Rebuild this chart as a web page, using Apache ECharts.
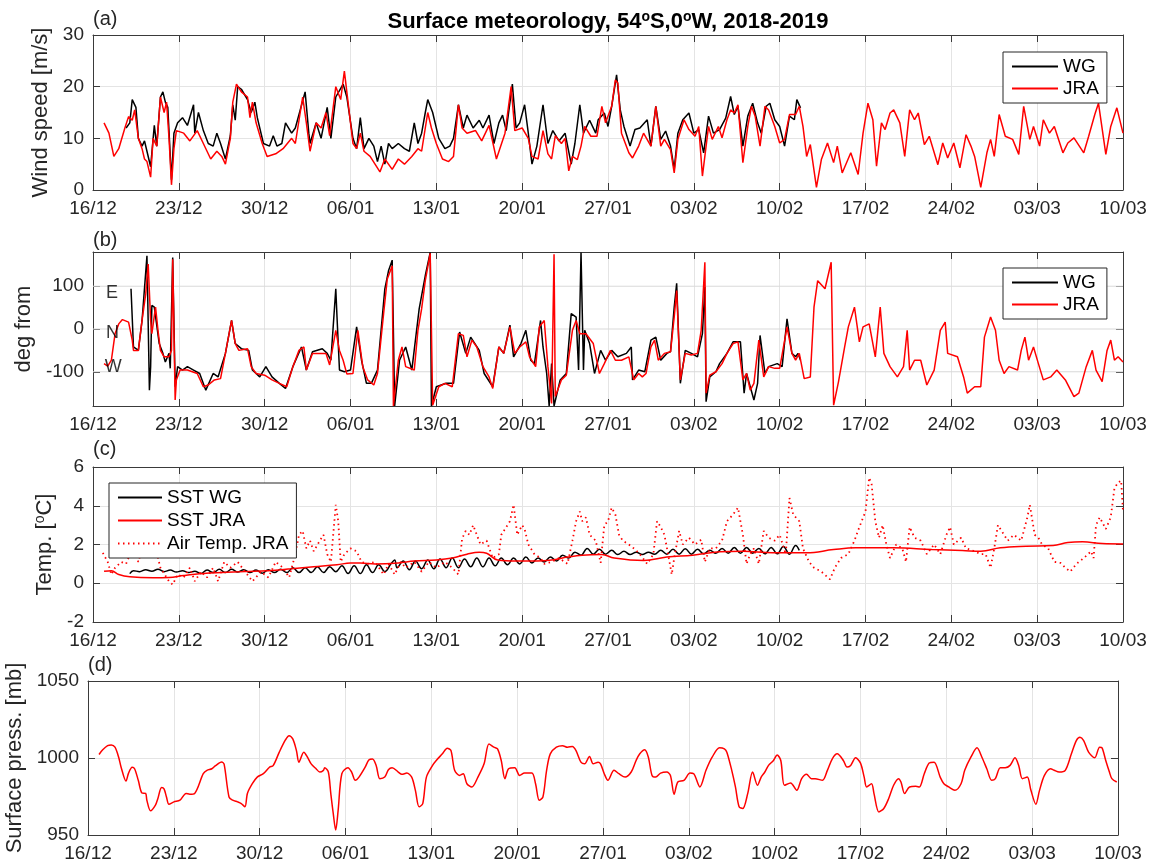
<!DOCTYPE html>
<html><head><meta charset="utf-8">
<script src="https://cdn.jsdelivr.net/npm/echarts@6/dist/echarts.min.js"></script>
<style>html,body{margin:0;padding:0;background:#fff}#c{width:1154px;height:868px}</style>
</head><body><div id="c"></div>
<script>
// ---- tick labels (x axis: days since 16/12/2018, weekly ticks) ----
const tickLabels = ['16/12','23/12','30/12','06/01','13/01','20/01','27/01','03/02','10/02','17/02','24/02','03/03','10/03'];
const dirTicks = [-100, 0, 100];

// ---- (a) wind speed [m/s] : [day, value] ----
const windWG = [[2.7,12],[3.0,13],[3.2,17.5],[3.5,16],[3.7,10],[4.0,8.5],[4.2,9.5],[4.4,7.5],[4.7,4.5],[5.0,12.5],[5.2,8.5],[5.5,18],[5.7,19],[5.9,17],[6.1,16],[6.4,2],[6.6,11],[6.9,13],[7.3,14],[7.7,12.5],[8.2,16.5],[8.3,11],[8.6,15],[9.0,11.5],[9.4,9],[9.8,8.5],[10.1,11],[10.4,9],[10.8,6],[11.2,10.5],[11.4,16.5],[11.6,13.5],[11.8,20],[12.1,19.5],[12.6,17.5],[12.9,15],[13.2,17],[13.4,14],[13.9,9],[14.4,8.5],[14.7,10.5],[15.0,8.5],[15.4,9],[15.7,13],[16.2,11],[16.5,12],[17.3,19],[17.6,11],[17.7,9],[18.2,13],[18.6,10],[19.1,16],[19.4,10],[19.8,18],[20.4,20.5],[20.7,18],[21.2,10],[21.5,8],[21.8,14],[22.1,8],[22.5,10],[22.9,8.5],[23.2,5.5],[23.5,8.5],[23.8,5],[24.1,9],[24.4,8],[24.9,9],[25.4,8],[25.8,7.5],[26.2,13],[26.5,9],[26.8,11],[27.1,15],[27.3,17.5],[27.7,15],[28.2,10],[28.7,8],[29.1,8.5],[29.4,10],[29.8,16.5],[30.2,12],[30.5,14.5],[31.0,12],[31.5,13.5],[31.8,12],[32.3,14.5],[32.7,9],[33.1,13],[33.4,14.5],[33.7,11.5],[34.2,20.5],[34.5,12],[34.8,13],[35.2,16.5],[35.5,11],[35.8,5],[36.2,8.5],[36.7,16.5],[37.1,9],[37.5,11.5],[38.0,9.5],[38.5,11],[39.0,5],[39.3,9],[39.7,16.5],[40.0,11],[40.5,13.5],[41.0,11],[41.2,13.6],[41.7,14.9],[42.0,12.3],[42.3,16.2],[42.7,22.3],[43.0,15.5],[43.3,12.3],[43.8,8.5],[44.2,11.7],[44.6,12],[45.2,13.6],[45.5,8.5],[45.9,16.2],[46.3,9.8],[46.7,11.4],[47.1,8.5],[47.4,4],[47.7,11],[48.1,13.6],[48.6,14.9],[49.0,11],[49.4,11.7],[49.8,7.2],[50.2,14.3],[50.6,11],[51.1,11.7],[51.6,13.9],[52.0,18.1],[52.3,14.6],[52.6,16.2],[53.0,8.5],[53.4,14.3],[53.8,16.8],[54.2,13],[54.5,11],[54.9,16.2],[55.2,16.8],[55.6,13.6],[56.0,12.3],[56.4,8.5],[56.8,14.3],[57.2,13.6],[57.4,17.5],[57.7,15.9]];
const windJRA = [[0.9,13],[1.3,11],[1.7,6.5],[2.1,8],[2.6,12],[2.9,14.2],[3.2,13.5],[3.4,15.5],[3.7,10],[4.0,8],[4.2,6],[4.4,5.5],[4.7,2.5],[4.9,10],[5.2,8.5],[5.5,18],[5.8,15],[6.0,17],[6.2,10],[6.4,1],[6.6,8],[6.8,11.5],[7.4,11],[7.9,9.5],[8.5,11.5],[9.0,9],[9.6,6],[10.1,7.5],[10.5,6.5],[10.8,5],[11.2,10],[11.4,17],[11.7,20.5],[12.1,19],[12.6,18],[12.8,14],[13.0,17],[13.3,13],[13.8,9],[14.2,6.5],[14.9,7],[15.5,8],[16.2,10],[16.5,9],[17.1,18],[17.4,13],[17.7,7.5],[18.2,13],[18.6,12],[19.0,15],[19.3,10.5],[19.8,20],[20.2,17.5],[20.5,23],[20.8,17],[21.2,9],[21.5,8],[21.8,11],[22.1,7.5],[22.6,6.5],[23.0,5],[23.4,3.5],[23.8,6],[24.4,4],[24.9,6],[25.4,5],[26.0,6.5],[26.5,8],[26.8,7.5],[27.3,15],[27.6,12],[28.0,9],[28.5,6],[29.0,5.5],[29.4,6.5],[29.8,16.5],[30.1,12],[30.5,11],[31.2,11.5],[31.7,9.5],[32.3,12.5],[32.9,6],[33.6,11],[34.1,20],[34.4,11.5],[35.0,12],[35.5,10],[35.8,6.5],[36.3,6],[36.7,11.5],[37.1,7],[37.4,6],[37.7,10.5],[38.2,9],[38.5,10],[38.8,3.7],[39.1,6.5],[39.5,5.9],[39.8,8.5],[40.1,12.3],[40.6,10.4],[41.1,10.4],[41.5,16.2],[41.8,13],[42.3,16.2],[42.6,21.3],[42.8,20.7],[43.1,11],[43.7,7.2],[44.0,6.2],[44.5,8.5],[44.9,11],[45.5,8.5],[45.9,16.2],[46.3,8.5],[46.6,9.8],[47.1,7.8],[47.4,3.3],[47.7,9.8],[48.2,13.6],[48.6,11.7],[49.1,10.4],[49.4,12.3],[49.7,2.7],[50.2,12.3],[50.5,9.8],[51.0,12.3],[51.3,10.1],[51.7,13.6],[52.0,15.5],[52.3,14.9],[52.6,16.5],[53.0,5.3],[53.4,12.3],[53.7,16.2],[54.0,14.3],[54.4,8.5],[54.8,16.2],[55.1,15.5],[55.6,12.3],[56.0,9.1],[56.4,9.8],[56.8,14.6],[57.3,14.6],[57.6,16.2],[57.9,12.3],[58.2,6.5],[58.5,8.8],[59.0,0.5],[59.4,5.9],[59.9,9.1],[60.4,5.3],[60.7,8.5],[61.1,3.3],[61.8,7.2],[62.4,3],[62.8,11],[63.2,16.8],[63.6,13.6],[63.9,4.6],[64.3,13],[64.6,11.7],[65.0,14.9],[65.3,15.5],[65.8,13],[66.2,6.5],[66.6,15.5],[67.0,13.6],[67.3,14.9],[67.8,8.8],[68.2,10.4],[68.9,4.9],[69.3,9.1],[69.7,6.2],[70.2,9.1],[70.7,4.3],[71.2,10.7],[71.6,8.5],[71.9,6.5],[72.4,0.5],[72.9,7.2],[73.2,9.8],[73.5,6.5],[73.9,14.6],[74.4,10.4],[75.0,9.8],[75.5,6.9],[75.9,16.2],[76.4,9.8],[76.7,12.3],[77.2,8.5],[77.5,13.6],[78.0,11],[78.4,12.3],[79.1,7.2],[79.5,9.1],[80.0,10.1],[80.8,7.2],[81.2,10.4],[81.7,14.6],[82.0,16.8],[82.6,6.9],[83.0,12.3],[83.5,15.9],[84.0,11]];

// ---- (b) wind direction [deg from] ----
const dirWG = [[3.1,94],[3.3,-42],[3.7,-50],[4.0,20],[4.4,171],[4.6,-143],[4.7,-88],[4.8,55],[5.0,51],[5.4,-34],[5.7,-57],[5.9,-77],[6.2,-57],[6.3,-92],[6.5,167],[6.7,-135],[6.9,-88],[7.3,-96],[7.7,-88],[8.2,-96],[8.7,-104],[9.2,-143],[9.8,-104],[10.2,-112],[10.8,-57],[11.3,20],[11.6,-34],[12.1,-46],[12.7,-50],[13.0,-96],[13.6,-112],[14.1,-88],[14.6,-112],[15.2,-127],[15.7,-139],[16.3,-88],[17.0,-42],[17.4,-96],[17.9,-53],[18.7,-46],[19.1,-57],[19.4,-73],[19.8,94],[19.9,28],[20.1,-96],[20.5,-100],[21.0,-96],[21.5,5],[21.9,-73],[22.3,-127],[22.7,-127],[23.2,-96],[23.8,94],[24.1,136],[24.4,161],[24.6,-180],[25.0,-73],[25.5,-42],[26.0,-96],[26.6,47],[27.1,125],[27.5,179],[27.6,-180],[28.0,-135],[28.8,-127],[29.4,-127],[29.9,-7],[30.4,-57],[30.8,-19],[31.5,-50],[31.9,-104],[32.6,-135],[33.1,-42],[33.5,-57],[34.0,9],[34.3,-65],[34.9,-34],[35.3,-3],[35.7,-73],[36.0,-81],[36.5,20],[36.7,-42],[37.0,-104],[37.2,-180],[37.4,-81],[37.6,-180],[38.1,-119],[38.6,-104],[39.0,36],[39.4,28],[39.6,-96],[39.8,179],[40.0,-96],[40.1,-3],[40.5,-34],[40.9,-104],[41.4,-50],[41.8,-73],[42.3,-50],[42.8,-65],[43.5,-57],[43.9,-42],[44.0,-119],[44.5,-96],[45.0,-100],[45.5,-26],[45.9,-19],[46.3,-73],[46.8,-57],[47.1,-53],[47.4,51],[47.6,107],[47.9,-127],[48.3,-50],[48.8,-57],[49.3,-65],[49.7,-11],[49.9,98],[50.0,-170],[50.3,-112],[50.8,-100],[51.1,-81],[51.7,-57],[52.2,-30],[52.8,-30],[53.1,-150],[53.3,-104],[53.9,-166],[54.2,-127],[54.4,-15],[54.8,-104],[55.1,-88],[55.8,-81],[56.2,-88],[56.6,24],[57.0,-57],[57.3,-65],[57.5,-57],[57.7,-73]];
const dirJRA = [[0.9,-81],[1.2,-87],[1.5,-73],[1.8,-11],[2.1,12],[2.4,22],[2.9,16],[3.0,16],[3.2,-26],[3.3,-50],[3.7,-50],[4.0,20],[4.3,82],[4.5,152],[4.7,20],[4.8,-11],[5.1,51],[5.3,-3],[5.5,-50],[5.8,-65],[6.2,-65],[6.4,-50],[6.5,163],[6.7,-166],[6.8,-119],[7.1,-96],[7.7,-96],[8.5,-104],[9.0,-135],[9.4,-131],[9.9,-119],[10.4,-116],[10.8,-57],[11.3,20],[11.6,-34],[11.9,-50],[12.6,-46],[12.9,-88],[13.3,-104],[14.0,-108],[14.6,-119],[15.2,-127],[15.8,-135],[16.3,-88],[16.8,-50],[17.2,-42],[17.4,-96],[17.9,-57],[18.5,-57],[19.0,-57],[19.3,-84],[19.8,-3],[20.1,-50],[20.4,-73],[20.7,-105],[21.2,-104],[21.6,-3],[22.0,-88],[22.4,-119],[22.9,-131],[23.2,-104],[23.7,36],[24.0,117],[24.4,148],[24.5,-180],[24.9,-73],[25.2,-42],[25.5,-88],[26.2,-96],[26.5,-3],[26.8,47],[27.1,113],[27.5,177],[27.7,-178],[28.2,-135],[28.7,-127],[29.3,-135],[29.8,-11],[30.2,-15],[30.5,-65],[30.9,-26],[31.3,-42],[31.8,-88],[32.3,-112],[32.6,-139],[33.1,-42],[33.5,-57],[34.0,5],[34.4,-57],[34.8,-42],[35.3,-30],[35.6,-65],[36.1,-88],[36.4,5],[36.8,20],[37.1,-88],[37.4,-174],[37.6,175],[37.7,-158],[38.2,-119],[38.6,-108],[39.1,-3],[39.4,20],[39.7,-11],[40.2,-11],[40.8,-34],[41.3,-104],[41.7,-81],[42.2,-50],[42.6,-73],[43.1,-73],[43.7,-65],[44.1,-119],[44.5,-104],[44.8,-112],[45.1,-104],[45.5,-42],[45.8,-26],[46.1,-73],[46.6,-57],[47.1,-53],[47.4,28],[47.6,90],[47.9,-119],[48.3,-57],[48.8,-61],[49.3,-57],[49.6,-3],[49.9,156],[50.0,-150],[50.3,-108],[50.8,-100],[51.3,-81],[51.7,-57],[52.2,-34],[52.6,-30],[53.0,-119],[53.3,-104],[53.6,-143],[53.9,-127],[54.3,-26],[54.7,-112],[55.1,-88],[55.6,-92],[56.0,-92],[56.6,5],[57.0,-57],[57.3,-73],[57.6,-57],[58.0,-116],[58.5,-112],[58.8,51],[59.1,113],[59.7,94],[60.2,156],[60.4,-178],[60.8,-123],[61.3,-42],[61.6,5],[62.1,51],[62.5,-30],[62.8,5],[63.3,12],[63.8,-65],[64.2,51],[64.5,-57],[65.0,-88],[65.6,-112],[66.1,-88],[66.4,-3],[66.6,-96],[67.0,-73],[67.5,-73],[68.0,-131],[68.6,-96],[69.1,-3],[69.5,16],[69.7,-57],[70.5,-65],[71.0,-112],[71.3,-150],[71.9,-135],[72.4,-135],[72.7,-19],[73.2,28],[73.6,-3],[73.9,-73],[74.3,-104],[74.7,-88],[75.4,-96],[75.7,-50],[76.0,-19],[76.3,-73],[76.7,-42],[77.1,-81],[77.5,-119],[78.1,-112],[78.6,-96],[79.3,-119],[80.0,-158],[80.4,-150],[81.0,-88],[81.5,-50],[81.8,-96],[82.3,-123],[82.7,-50],[83.0,-26],[83.3,-73],[83.6,-65],[84.0,-77]];
const compassLabels = [{name:'E', value:[1.55,84]},{name:'N', value:[1.6,-9]},{name:'W', value:[1.65,-89]}];

// ---- (c) temperatures [degC] ----
const sstWG = [[3.0,0.5],[3.3,0.65],[3.8,0.6],[4.3,0.7],[4.8,0.62],[5.3,0.72],[5.8,0.6],[6.3,0.68],[6.8,0.58],[7.3,0.65],[7.8,0.55],[8.3,0.62],[8.8,0.5],[9.3,0.68],[9.8,0.55],[10.3,0.72],[10.8,0.55],[11.3,0.72],[11.8,0.58],[12.3,0.7],[12.8,0.55],[13.3,0.68],[13.8,0.52],[14.3,0.7],[14.8,0.55],[15.3,0.72],[15.8,0.55],[16.3,0.8],[16.8,0.55],[17.3,0.8],[17.8,0.55],[18.3,0.85],[18.8,0.55],[19.3,0.85],[19.8,0.6],[20.3,0.9],[20.8,0.5],[21.3,0.9],[21.8,0.5],[22.3,0.95],[22.8,0.55],[23.3,0.95],[23.8,0.6],[24.3,1.0],[24.6,1.2],[24.8,0.8],[25.3,1.15],[25.8,0.7],[26.3,1.15],[26.8,0.75],[27.3,1.2],[27.8,0.75],[28.3,1.25],[28.8,0.8],[29.3,1.3],[29.8,0.8],[30.3,1.25],[30.8,0.85],[31.3,1.3],[31.8,0.85],[32.3,1.3],[32.8,0.9],[33.3,1.3],[33.8,0.95],[34.3,1.3],[34.8,1.0],[35.3,1.35],[35.8,1.05],[36.3,1.3],[36.8,1.1],[37.3,1.35],[37.8,1.15],[38.3,1.45],[38.8,1.3],[39.3,1.6],[39.8,1.45],[40.3,1.8],[40.8,1.5],[41.3,1.75],[41.8,1.5],[42.3,1.7],[42.8,1.48],[43.3,1.65],[43.8,1.48],[44.3,1.6],[44.8,1.48],[45.3,1.6],[45.8,1.5],[46.3,1.7],[46.8,1.5],[47.3,1.75],[47.8,1.5],[48.3,1.78],[48.8,1.5],[49.3,1.75],[49.8,1.52],[50.3,1.7],[50.8,1.55],[51.3,1.8],[51.8,1.55],[52.3,1.85],[52.8,1.55],[53.3,1.85],[53.8,1.55],[54.3,1.8],[54.8,1.52],[55.3,1.85],[55.8,1.52],[56.3,1.9],[56.8,1.5],[57.3,1.95],[57.6,1.7]];
const sstJRA = [[0.9,0.62],[1.5,0.65],[2.1,0.45],[3.0,0.33],[4.9,0.28],[6.2,0.3],[7.4,0.4],[9.0,0.5],[10.5,0.55],[12.4,0.6],[14.3,0.65],[16.2,0.75],[18.0,0.85],[19.9,0.95],[21.0,1.05],[21.8,1.05],[23.0,1.0],[24.9,1.05],[26.2,1.15],[28.0,1.2],[29.3,1.3],[30.5,1.5],[31.5,1.6],[32.1,1.55],[33.0,1.2],[34.6,1.15],[36.2,1.15],[37.4,1.2],[38.7,1.35],[39.9,1.45],[41.5,1.48],[42.5,1.3],[44.9,1.17],[46.8,1.35],[48.9,1.45],[51.1,1.62],[53.0,1.65],[55.4,1.57],[58.2,1.57],[60.4,1.74],[62.2,1.83],[65.3,1.83],[68.4,1.74],[70.9,1.69],[72.4,1.65],[74.0,1.83],[76.1,1.91],[78.3,1.95],[79.5,2.1],[80.7,2.14],[82.3,2.05],[84.0,2.03]];
const airJRA = [[0.8,1.57],[1.2,1.1],[1.5,0.45],[1.8,0.8],[2.3,1.1],[2.7,1.0],[3.2,1.8],[3.7,1.1],[4.1,2.0],[4.6,1.3],[5.1,1.8],[5.5,0.8],[6.2,0.1],[6.5,-0.07],[6.9,0.45],[7.4,0.3],[7.9,0.8],[8.3,0.1],[8.8,0.6],[9.3,0.3],[9.8,0.8],[10.2,0.1],[10.7,1.1],[11.2,0.8],[11.8,1.1],[12.4,0.6],[13.0,0.1],[13.7,0.6],[14.3,0.3],[14.9,1.1],[15.5,0.8],[16.0,0.3],[16.5,1.5],[16.8,2.5],[17.1,2.7],[17.4,1.8],[17.7,2.2],[18.0,1.65],[18.5,2.2],[18.8,2.5],[19.1,1.5],[19.4,1.1],[19.8,4.05],[20.0,3.2],[20.2,1.1],[20.5,1.5],[21.0,1.8],[21.5,1.65],[21.9,1.1],[22.4,1.0],[23.0,1.1],[23.7,0.45],[24.1,1.0],[24.6,0.45],[25.1,1.1],[25.5,0.8],[26.2,1.1],[26.8,0.6],[27.4,1.1],[28.0,0.8],[28.7,1.1],[29.3,0.8],[29.8,0.45],[30.1,2.3],[30.4,2.7],[30.7,2.5],[31.0,3.0],[31.3,2.5],[31.6,2.0],[32.1,2.2],[32.6,1.3],[33.1,1.5],[33.3,2.5],[33.7,2.9],[34.0,3.2],[34.3,4.05],[34.6,2.5],[35.0,3.0],[35.2,2.8],[35.5,2.0],[36.0,1.5],[36.5,1.3],[36.8,1.0],[37.4,1.1],[38.0,1.3],[38.7,1.0],[39.1,2.2],[39.4,3.2],[39.7,3.7],[39.9,3.2],[40.2,3.4],[40.5,2.5],[41.0,2.2],[41.4,1.05],[41.7,3.0],[42.0,3.2],[42.3,3.9],[42.6,3.55],[42.9,2.5],[43.2,2.2],[43.7,2.0],[44.2,1.75],[44.6,1.5],[45.2,1.0],[45.7,1.5],[46.0,3.2],[46.3,2.9],[46.6,2.5],[46.9,1.5],[47.2,0.45],[47.4,1.3],[47.8,2.7],[48.1,2.0],[48.6,2.35],[49.1,2.0],[49.6,2.25],[49.9,1.1],[50.3,1.8],[50.8,1.8],[51.3,2.2],[51.7,3.2],[52.2,3.55],[52.6,3.9],[53.0,2.5],[53.3,1.0],[53.6,1.5],[53.9,1.8],[54.3,1.0],[54.7,2.7],[55.1,2.35],[55.6,2.2],[56.0,2.5],[56.5,1.5],[56.8,4.4],[57.1,3.55],[57.6,3.2],[57.9,1.8],[58.4,1.1],[58.8,0.8],[59.4,0.6],[60.1,0.2],[60.5,0.8],[61.0,1.3],[61.6,1.5],[62.1,2.2],[62.5,2.9],[63.0,3.7],[63.3,5.45],[63.5,5.1],[63.8,3.2],[64.1,2.35],[64.4,3.0],[64.7,2.0],[65.0,1.3],[65.5,2.0],[66.0,1.8],[66.3,1.1],[66.6,2.9],[67.0,2.35],[67.5,2.2],[68.0,1.5],[68.6,2.0],[69.1,1.5],[69.6,2.5],[69.9,2.9],[70.2,2.0],[70.8,2.35],[71.2,1.8],[71.9,1.65],[72.4,1.5],[72.8,1.5],[73.2,0.8],[73.5,1.8],[73.8,3.0],[74.1,2.7],[74.6,2.2],[75.1,2.5],[75.7,2.2],[76.2,3.4],[76.4,4.05],[76.8,2.5],[77.1,2.35],[77.4,2.0],[77.9,1.8],[78.4,1.1],[78.9,1.05],[79.3,0.8],[79.7,0.6],[80.2,1.0],[80.8,1.3],[81.4,1.65],[81.6,1.3],[81.8,3.0],[82.1,3.4],[82.6,2.8],[83.0,3.4],[83.3,4.9],[83.6,5.2],[83.85,5.3],[84.0,3.7]];

// ---- (d) surface pressure [mb] ----
const pressJRA = [[0.9,1002.3],[1.2,1005.3],[1.6,1008],[1.9,1008.5],[2.2,1007],[2.5,1000.5],[2.7,994],[3.1,985],[3.3,990],[3.6,994],[3.8,993],[4.1,985.5],[4.4,977.3],[4.7,977],[4.8,972.6],[5.1,965.7],[5.5,969.4],[5.7,973.7],[6.0,980.8],[6.2,980],[6.4,974.7],[6.6,970],[7.0,971.5],[7.5,972.6],[8.0,977],[8.3,976.5],[8.7,977],[9.4,989.8],[9.7,992],[10.1,993],[10.4,995],[10.9,997.4],[11.1,996],[11.5,974.7],[11.8,972.6],[12.2,971.5],[12.5,970.4],[12.8,968.3],[13.0,977],[13.4,983.3],[13.8,987.6],[14.3,989.8],[14.8,994],[15.1,995],[15.6,1003.8],[16.1,1011.7],[16.4,1014.5],[16.7,1012.4],[17.0,1004.8],[17.2,997.3],[17.6,1003.8],[17.9,1000.5],[18.2,996.2],[18.6,993],[18.9,990.9],[19.2,992],[19.3,993.7],[19.6,990.9],[19.8,977],[20.0,964],[20.2,953.2],[20.4,966],[20.7,989.8],[21.2,993.7],[21.5,990.9],[21.8,985.5],[22.1,987.6],[22.6,994],[22.9,998.7],[23.2,999.4],[23.5,995.2],[23.8,986.6],[24.2,987.6],[24.5,992.4],[24.8,993.7],[25.3,990.9],[25.6,989.4],[26.0,990.2],[26.4,987.6],[26.7,979],[27.0,968.3],[27.3,970.4],[27.6,987.6],[28.1,995.2],[28.4,998.4],[28.9,1002.7],[29.3,1006.3],[29.6,1004.8],[29.9,992],[30.3,988.7],[30.6,989.8],[30.9,983.3],[31.3,981.2],[31.8,987.6],[32.3,996.2],[32.7,1009.1],[33.1,1007],[33.4,1005.9],[33.7,998.4],[34.0,986.6],[34.3,993],[34.8,993.7],[35.2,988.7],[35.6,990.2],[36.2,990.2],[36.5,983.3],[36.8,972.6],[37.1,974.7],[37.4,992],[37.7,1002.7],[38.2,1007],[38.7,1008],[39.1,1007],[39.5,1007.5],[39.8,1004.8],[40.2,997.3],[40.5,996.2],[40.9,1001],[41.2,996.2],[41.6,997.3],[41.8,996.2],[42.1,989.8],[42.4,985.5],[42.9,992],[43.3,989.8],[43.8,987.6],[44.3,990.9],[44.7,998.4],[45.0,1002.7],[45.4,1005.3],[45.7,1000.5],[46.0,988.7],[46.3,987.6],[46.7,990.2],[47.2,990.9],[47.5,988.7],[47.8,976.5],[48.1,984.4],[48.6,985.5],[49.1,990.2],[49.4,989.8],[49.9,981.2],[50.4,992],[50.9,1000.5],[51.5,1006.6],[51.9,1005.9],[52.1,1003.8],[52.5,992],[52.8,981.2],[53.1,968.3],[53.4,967.2],[53.8,976.9],[54.2,990.9],[54.6,982.3],[54.9,987.6],[55.2,990.9],[55.5,995.2],[55.9,998.4],[56.2,1002],[56.5,998.4],[56.8,982.3],[57.3,983.8],[57.8,979],[58.2,986.6],[58.6,989.4],[59.0,986.6],[59.3,986.6],[59.9,985.5],[60.3,992],[60.7,999.5],[61.1,1002.7],[61.6,998.4],[61.9,994.1],[62.2,995.2],[62.6,1000.1],[63.0,996.7],[63.3,987.6],[63.5,981.2],[63.9,983.3],[64.1,976.9],[64.5,965],[64.9,967.2],[65.3,973.7],[65.7,982.3],[66.1,986.6],[66.3,984.4],[66.6,976.9],[67.0,981.2],[67.5,981.6],[67.8,981.2],[68.2,989.8],[68.6,996.7],[69.0,997.3],[69.5,987.6],[69.8,983.3],[70.2,981.2],[70.7,979],[71.2,983.3],[71.5,992],[72.0,1000.5],[72.5,1006.6],[72.9,1000.5],[73.3,993],[73.7,985.5],[74.0,986.6],[74.4,993.7],[74.8,993.7],[75.2,995.2],[75.6,1000.1],[75.9,995.2],[76.2,986.6],[76.6,987.6],[76.9,979],[77.3,970],[77.6,979],[78.0,988.7],[78.5,993],[78.8,992],[79.2,990.9],[79.7,992],[80.2,1002.7],[80.6,1011.3],[80.9,1013.4],[81.2,1011.3],[81.6,1003.8],[82.1,1000.1],[82.5,1007],[82.7,1006.6],[83.0,998.4],[83.3,990.9],[83.5,986.6],[83.9,984.4]];

// ---------------- chart ----------------
const FF = '"Liberation Sans", Arial, Helvetica, sans-serif';
const AX = '#3a3a3a', GRID = '#e4e4e4', TXT = '#262626';
const X_MIN = 0, X_MAX = 84;
const grids = [
  {left:93, top:35,  width:1030, height:155},
  {left:93, top:252, width:1030, height:154},
  {left:93, top:467, width:1030, height:155},
  {left:88, top:681, width:1030, height:154}
];
const yCfg = [
  {min:0, max:30, interval:10, name:'Wind speed [m/s]', gap:36},
  {min:-180, max:180, custom:dirTicks, name:'deg from', gap:57},
  {min:-2, max:6, interval:2, name:'Temp. [{s|o}C]', gap:34},
  {min:950, max:1050, interval:50, name:'Surface press. [mb]', gap:59}
];
const xAxis = [], yAxis = [];
grids.forEach((g, i) => {
  xAxis.push({type:'value', gridIndex:i, position:'bottom', min:X_MIN, max:X_MAX, interval:7,
    axisLine:{show:true, onZero:false, lineStyle:{color:AX, width:1}},
    axisTick:{show:true, inside:true, length:7, lineStyle:{color:AX}},
    axisLabel:{margin:9, fontSize:19, color:TXT, fontFamily:FF, formatter:v => tickLabels[Math.round(v/7)]},
    splitLine:{show:true, lineStyle:{color:GRID, width:1}}});
  xAxis.push({type:'value', gridIndex:i, position:'top', min:X_MIN, max:X_MAX, interval:7,
    axisLine:{show:true, onZero:false, lineStyle:{color:AX, width:1}},
    axisTick:{show:true, inside:true, length:7, lineStyle:{color:AX}},
    axisLabel:{show:false}, splitLine:{show:false}});
  const c = yCfg[i];
  const base = {type:'value', gridIndex:i, min:c.min, max:c.max};
  if (c.interval) base.interval = c.interval;
  const left = Object.assign({}, base, {position:'left',
    name:c.name, nameLocation:'middle', nameGap:c.gap,
    nameTextStyle:{fontSize:22, color:TXT, fontFamily:FF, rich:{s:{fontSize:14, color:TXT, fontFamily:FF, verticalAlign:'top', lineHeight:24}}},
    axisLine:{show:true, onZero:false, lineStyle:{color:AX, width:1}},
    axisTick:{show:true, inside:true, length:7, lineStyle:{color:AX}},
    axisLabel:{margin:9, fontSize:19, color:TXT, fontFamily:FF, formatter:v => String(v)},
    splitLine:{show:!c.custom, lineStyle:{color:GRID, width:1}}});
  const right = Object.assign({}, base, {position:'right',
    axisLine:{show:true, onZero:false, lineStyle:{color:AX, width:1}},
    axisTick:{show:true, inside:true, length:7, lineStyle:{color:AX}},
    axisLabel:{show:false}, splitLine:{show:false}});
  if (c.custom) {
    left.axisTick.customValues = c.custom; left.axisLabel.customValues = c.custom;
    right.axisTick.customValues = c.custom;
  }
  yAxis.push(left, right);
});

function line(name, data, gi, color, extra) {
  return Object.assign({type:'line', name, data, xAxisIndex:2*gi, yAxisIndex:2*gi,
    symbol:'none', showSymbol:false, silent:true, animation:false, z:3,
    lineStyle:{color, width:1.5}, itemStyle:{color}}, extra || {});
}
const RED = '#ff0000', BLK = '#000000';
// horizontal grid lines for panel (b), one per tick value, across the full x range
const dirGridSeries = dirTicks.map(v => ({type:'line', name:'grid' + v, data:[[X_MIN, v], [X_MAX, v]],
  xAxisIndex:2, yAxisIndex:2, symbol:'none', silent:true, z:1, animation:false,
  lineStyle:{color:'#d9d9d9', width:1}}));
const series = [
  ...dirGridSeries,
  line('WG', windWG, 0, BLK), line('JRA', windJRA, 0, RED),
  line('WG', dirWG, 1, BLK), line('JRA', dirJRA, 1, RED),
  {type:'scatter', name:'compass', data:compassLabels, xAxisIndex:2, yAxisIndex:2, symbol:'circle', symbolSize:0.1,
    itemStyle:{color:'#000'}, silent:true, z:4,
    label:{show:true, position:'inside', formatter:p => p.name, fontSize:18, color:'#000', fontFamily:FF}},
  line('SST WG', sstWG, 2, BLK, {smooth:0.4}), line('SST JRA', sstJRA, 2, RED, {smooth:0.4}),
  line('Air Temp. JRA', airJRA, 2, RED, {lineStyle:{color:RED, width:1.8, type:[1.5,3.5]}}),
  line('JRA ', pressJRA, 3, RED, {smooth:0.3})
];

const legendBase = {orient:'vertical', selectedMode:false, itemWidth:46, itemHeight:12, itemGap:3,
  padding:[5,8,5,8], borderColor:'#262626', borderWidth:1, backgroundColor:'#fff',
  itemStyle:{opacity:0, borderWidth:0},
  textStyle:{fontSize:19, color:'#000', fontFamily:FF, lineHeight:19}};
const legend = [
  Object.assign({}, legendBase, {data:['WG','JRA'], left:1003, top:52}),
  Object.assign({}, legendBase, {data:['WG','JRA'], left:1003, top:268}),
  Object.assign({}, legendBase, {data:['SST WG','SST JRA','Air Temp. JRA'], left:109, top:483, itemWidth:44, itemGap:4})
];

const graphic = [
  {type:'text', x:608, y:22, style:{text:'Surface meteorology, 54{s|o}S,0{s|o}W, 2018-2019',
     font:'bold 22px ' + FF, fill:'#000', align:'center', verticalAlign:'middle',
     rich:{s:{font:'bold 14px ' + FF, fill:'#000', verticalAlign:'top', lineHeight:24}}}},
  {type:'text', left:93, top:9, style:{text:'(a)', font:'20px ' + FF, fill:TXT}},
  {type:'text', left:93, top:230, style:{text:'(b)', font:'20px ' + FF, fill:TXT}},
  {type:'text', left:93, top:439, style:{text:'(c)', font:'20px ' + FF, fill:TXT}},
  {type:'text', left:88, top:655, style:{text:'(d)', font:'20px ' + FF, fill:TXT}}
];

const chart = echarts.init(document.getElementById('c'), null, {renderer:'canvas'});
chart.setOption({
  animation:false, backgroundColor:'#fff',
  grid: grids.map(g => Object.assign({containLabel:false, outerBoundsMode:'none'}, g)),
  xAxis, yAxis, series, legend, graphic
});
</script></body></html>
